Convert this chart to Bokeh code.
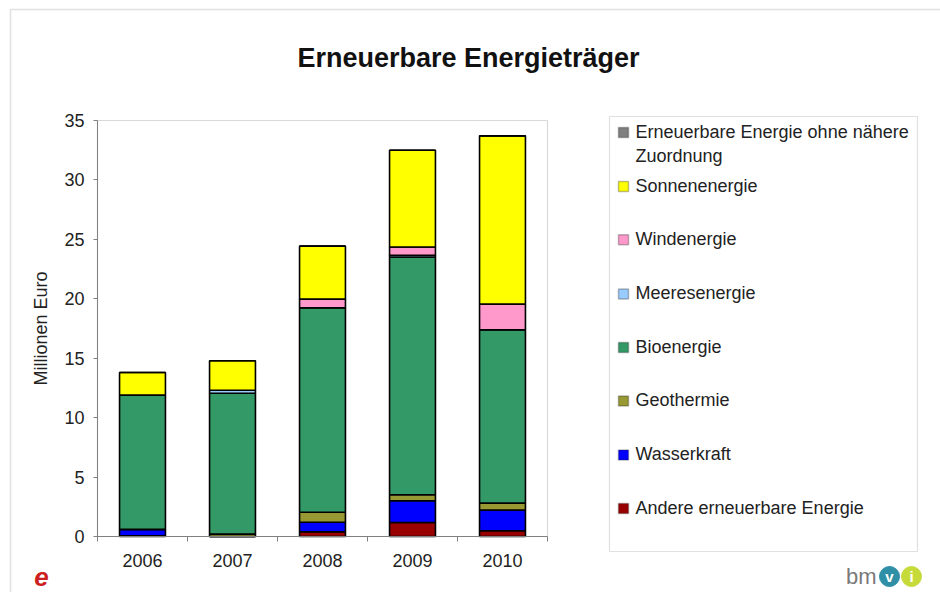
from bokeh.plotting import figure
from bokeh.models import Range1d, FixedTicker, Label, BoxAnnotation, ColumnDataSource
from bokeh.embed import file_html
from bokeh.resources import INLINE

# ---------------- data ----------------
years = ["2006", "2007", "2008", "2009", "2010"]
series_keys = ["andere", "wasser", "geo", "bio", "meer", "wind", "sonne", "ohne"]
series_names = [
    "Andere erneuerbare Energie",
    "Wasserkraft",
    "Geothermie",
    "Bioenergie",
    "Meeresenergie",
    "Windenergie",
    "Sonnenenergie",
    "Erneuerbare Energie ohne nähere Zuordnung",
]
colors = ["#990000", "#0000ff", "#999933", "#339966", "#99ccff", "#ff99cc", "#ffff00", "#808080"]

andere = [0.05, 0.0, 0.40, 1.18, 0.48]
wasser = [0.55, 0.0, 0.80, 1.83, 1.74]
geo = [0.0, 0.20, 0.84, 0.50, 0.59]
bio = [11.30, 11.85, 17.20, 20.00, 14.58]
meer = [0.0, 0.25, 0.0, 0.15, 0.0]
wind = [0.0, 0.0, 0.73, 0.70, 2.16]
sonne = [1.90, 2.49, 4.46, 8.14, 14.16]
ohne = [0.0, 0.0, 0.0, 0.0, 0.0]

y_ticks = [0, 5, 10, 15, 20, 25, 30, 35]

# ---------------- layout helpers (canvas px -> data coords) ----------------
W, H = 940, 592
FRAME_L, FRAME_R, FRAME_T, FRAME_B = 97, 547, 120, 536
Y_MAX = 35
N = len(years)


def sx(px):
    return (px - FRAME_L) / ((FRAME_R - FRAME_L) / N)


def sy(py):
    return (FRAME_B - py) / ((FRAME_B - FRAME_T) / Y_MAX)


FONT = "Liberation Sans"
TXT = "#222222"

xs = [i + 0.5 for i in range(N)]
source = ColumnDataSource(dict(
    x=xs, andere=andere, wasser=wasser, geo=geo, bio=bio,
    meer=meer, wind=wind, sonne=sonne, ohne=ohne,
))

p = figure(
    width=W, height=H,
    x_range=Range1d(sx(0), sx(W)), y_range=Range1d(sy(H), sy(0)),
    output_backend="svg", toolbar_location=None,
    min_border=0, min_border_left=0, min_border_right=0,
    min_border_top=0, min_border_bottom=0,
    background_fill_color="white", border_fill_color="white",
)
p.xgrid.visible = False
p.ygrid.visible = False
p.outline_line_color = None

# plot-area box
p.add_layout(BoxAnnotation(left=0, right=N, bottom=0, top=Y_MAX,
                           fill_color=None, fill_alpha=0, line_color="#808080", line_width=1.2))

p.vbar_stack(series_keys, x="x", width=0.51, color=colors,
             line_color="black", line_width=1.6, source=source)

# x axis: labels at centres, tick marks at category boundaries
xa = p.xaxis[0]
xa.fixed_location = 0
xa.bounds = (0, N)
xa.ticker = FixedTicker(ticks=xs, minor_ticks=list(range(N + 1)))
xa.major_label_overrides = {x: y for x, y in zip(xs, years)}
xa.major_tick_line_color = None
xa.major_tick_out = 5
xa.minor_tick_line_color = "#808080"
xa.minor_tick_out = 5
xa.minor_tick_in = 0
xa.axis_line_color = "#808080"
xa.major_label_text_font = FONT
xa.major_label_text_font_size = "18px"
xa.major_label_text_color = TXT
xa.major_label_standoff = 12

ya = p.yaxis[0]
ya.fixed_location = 0
ya.bounds = (0, Y_MAX)
ya.ticker = FixedTicker(ticks=y_ticks)
ya.minor_tick_line_color = None
ya.major_tick_line_color = "#808080"
ya.major_tick_out = 4
ya.major_tick_in = 0
ya.axis_line_color = "#808080"
ya.major_label_text_font = FONT
ya.major_label_text_font_size = "18px"
ya.major_label_text_color = TXT
ya.major_label_standoff = 9
ya.axis_label = "Millionen Euro"
ya.axis_label_text_font = FONT
ya.axis_label_text_font_size = "18px"
ya.axis_label_text_font_style = "normal"
ya.axis_label_text_color = TXT
ya.axis_label_standoff = 10

# outer chart border
p.add_layout(BoxAnnotation(left=sx(10), right=sx(1000), top=sy(9), bottom=sy(700),
                           fill_color=None, fill_alpha=0, line_color="#9a9a9a", line_width=1.5))

# title
p.add_layout(Label(x=sx(468), y=sy(57), text="Erneuerbare Energieträger",
                   text_align="center", text_baseline="middle",
                   text_font=FONT, text_font_size="27px", text_font_style="bold",
                   text_color="#111111"))

# legend box
p.add_layout(BoxAnnotation(left=sx(609), right=sx(917), top=sy(116), bottom=sy(551),
                           fill_color=None, fill_alpha=0, line_color="#9a9a9a", line_width=1.2))

legend_y = [132, 186, 239.3, 293.5, 347, 400.5, 454.5, 508]
for i, (name, col) in enumerate(zip(reversed(series_names), reversed(colors))):
    cy = legend_y[i]
    p.add_layout(BoxAnnotation(left=sx(618), right=sx(628), top=sy(cy - 5), bottom=sy(cy + 5),
                               fill_color=col, fill_alpha=1, line_color="#222222", line_width=1.5))
    if i == 0:
        parts = ["Erneuerbare Energie ohne nähere", "Zuordnung"]
        offs = [-1, 23]
    else:
        parts = [name]
        offs = [-1]
    for t, o in zip(parts, offs):
        p.add_layout(Label(x=sx(635), y=sy(cy + o), text=t, text_baseline="middle",
                           text_align="left", text_font=FONT, text_font_size="18px",
                           text_color=TXT))

# logos
p.add_layout(Label(x=sx(41), y=sy(576), text="e", text_align="center", text_baseline="middle",
                   text_font=FONT, text_font_size="26px", text_font_style="bold italic",
                   text_color="#cc2020"))
p.add_layout(Label(x=sx(876), y=sy(576), text="bm", text_align="right", text_baseline="middle",
                   text_font=FONT, text_font_size="22px", text_color="#7a7a7a"))
p.scatter(x=[sx(889), sx(911)], y=[sy(576), sy(576)], size=20,
          color=["#2f8fa6", "#c6db3a"])
p.add_layout(Label(x=sx(889), y=sy(576), text="v", text_align="center", text_baseline="middle",
                   text_font=FONT, text_font_size="15px", text_font_style="bold",
                   text_color="white"))
p.add_layout(Label(x=sx(911), y=sy(576), text="i", text_align="center", text_baseline="middle",
                   text_font=FONT, text_font_size="15px", text_font_style="bold",
                   text_color="white"))

open("out.html", "w").write(file_html(p, INLINE))
